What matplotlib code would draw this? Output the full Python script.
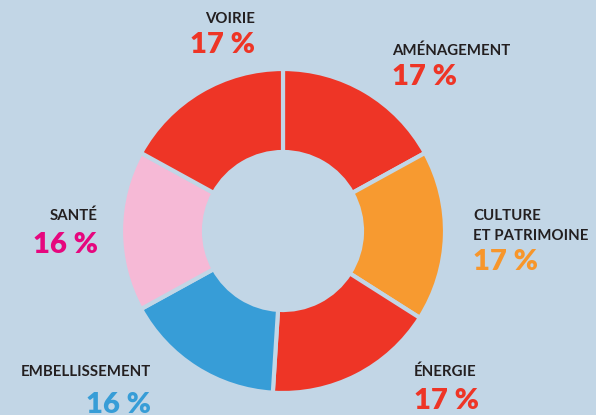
import matplotlib
matplotlib.use("Agg")
import matplotlib.pyplot as plt

categories = ["AMÉNAGEMENT", "CULTURE\nET PATRIMOINE", "ÉNERGIE", "EMBELLISSEMENT", "SANTÉ", "VOIRIE"]
values = [17, 17, 17, 16, 16, 17]
slice_colors = ["#EE3526", "#F79A30", "#EE3526", "#379DD7", "#F6B9D6", "#EE3526"]
pct_colors = ["#EE3526", "#F7962B", "#EE3526", "#379DD7", "#E6077E", "#EE3526"]

BG = "#C2D6E6"
DARK = "#231F20"
W, H = 596, 415

fig = plt.figure(figsize=(W / 100, H / 100), dpi=100, facecolor=BG)
ax = fig.add_axes([0, 0, 1, 1])
ax.set_facecolor(BG)
ax.set_xlim(0, W)
ax.set_ylim(0, H)
ax.set_aspect("equal")
ax.axis("off")

cx, cy = 283, H - 231
r_out, r_in = 162, 79
ax.pie(values, colors=slice_colors, startangle=90, counterclock=False,
       center=(cx, cy), radius=r_out, frame=True,
       wedgeprops=dict(width=r_out - r_in, edgecolor=BG, linewidth=3.0))
ax.set_xlim(0, W)
ax.set_ylim(0, H)
ax.axis("off")

# label layout: (x, label baseline y (px from top), pct baseline y, ha)
layout = [
    (392, 55, 85, "left"),
    (473, 240, 270, "left"),
    (414, 376, 409, "left"),
    (151, 376, 413, "right"),
    (98, 220, 253, "right"),
    (255, 23, 53, "right"),
]

lab_font = dict(family="Lato", weight="bold", size=10.8, color=DARK)
pct_font = dict(family="Lato", weight="heavy", size=21)

for cat, v, pc, (x, ly, py, ha) in zip(categories, values, pct_colors, layout):
    lines = cat.split("\n")
    for i, line in enumerate(reversed(lines)):
        ax.text(x, H - ly + i * 20, line, ha=ha, va="baseline", **lab_font)
    ax.text(x, H - py, f"{v} %", ha=ha, va="baseline", color=pc, **pct_font)

fig.savefig("out.png", dpi=100, facecolor=BG)
